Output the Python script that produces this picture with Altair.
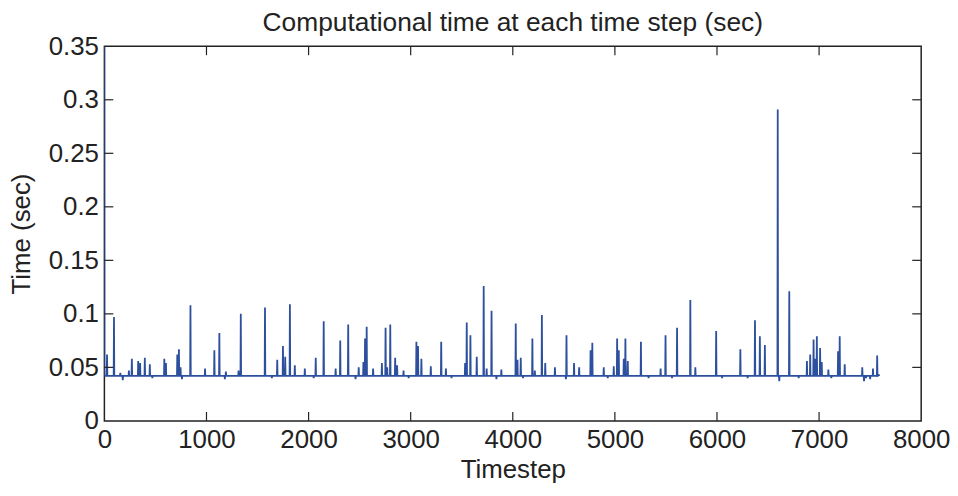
import altair as alt
import pandas as pd

title_text = "Computational time at each time step (sec)"
x_title = "Timestep"
y_title = "Time (sec)"
x_ticks = [0, 1000, 2000, 3000, 4000, 5000, 6000, 7000, 8000]
y_ticks = [0, 0.05, 0.1, 0.15, 0.2, 0.25, 0.3, 0.35]

baseline = 0.042
first_step, first_value = 0, 0.35
last_step, last_value = 7594, 0.043

spike_steps = [26, 94, 156, 240, 269, 331, 350, 396, 445, 587, 603, 714, 730, 746, 843,
               986, 1077, 1126, 1190, 1314, 1336, 1573, 1693, 1749, 1771, 1817, 1865, 1963,
               2070, 2148, 2265, 2310, 2388, 2491, 2537, 2553, 2569, 2632, 2718, 2754, 2770,
               2800, 2848, 2867, 2930, 3056, 3072, 3105, 3197, 3299, 3345, 3533, 3549, 3585,
               3647, 3715, 3744, 3792, 3888, 4029, 4046, 4078, 4192, 4216, 4285, 4318, 4413,
               4526, 4600, 4650, 4762, 4779, 4891, 4989, 5022, 5038, 5087, 5103, 5126, 5255,
               5448, 5496, 5609, 5739, 5788, 5992, 6229, 6372, 6420, 6469, 6595, 6708, 6881,
               6913, 6946, 6962, 6978, 7010, 7026, 7091, 7186, 7202, 7251, 7423, 7528, 7569]
spike_values = [0.062, 0.097, 0.045, 0.047, 0.058, 0.056, 0.054, 0.059, 0.053, 0.058, 0.054,
                0.062, 0.067, 0.050, 0.108, 0.049, 0.066, 0.082, 0.046, 0.047, 0.100, 0.106,
                0.057, 0.070, 0.060, 0.109, 0.052, 0.049, 0.059, 0.093, 0.049, 0.075, 0.090,
                0.050, 0.055, 0.077, 0.088, 0.049, 0.054, 0.087, 0.050, 0.090, 0.059, 0.052,
                0.047, 0.074, 0.070, 0.058, 0.051, 0.074, 0.049, 0.054, 0.092, 0.080, 0.060,
                0.126, 0.049, 0.103, 0.048, 0.091, 0.057, 0.059, 0.077, 0.047, 0.099, 0.054,
                0.050, 0.080, 0.054, 0.050, 0.066, 0.073, 0.050, 0.051, 0.077, 0.066, 0.058,
                0.077, 0.056, 0.074, 0.049, 0.080, 0.087, 0.113, 0.050, 0.084, 0.067, 0.094,
                0.079, 0.071, 0.291, 0.121, 0.056, 0.062, 0.076, 0.058, 0.079, 0.068, 0.055,
                0.048, 0.065, 0.079, 0.053, 0.050, 0.049, 0.061]

dip_steps = [180, 470, 760, 1180, 1640, 2050, 2460, 2980, 3400, 3840, 4100, 4520, 4930,
             5330, 5560, 6050, 6300, 6610, 6800, 7120, 7440, 7460, 7500]
dip_values = [0.038, 0.040, 0.039, 0.039, 0.040, 0.040, 0.039, 0.040, 0.040, 0.039, 0.040,
              0.039, 0.040, 0.040, 0.040, 0.040, 0.040, 0.037, 0.040, 0.040, 0.037, 0.040,
              0.039]

# assemble the series
points = {first_step: first_value, first_step + 1: baseline}
for s in spike_steps + dip_steps:
    for f in (s - 3, s + 3):
        if f > first_step + 1 and f not in points:
            points[f] = baseline
for s, v in zip(dip_steps, dip_values):
    points[s] = v
for s, v in zip(spike_steps, spike_values):
    points[s] = v
points[last_step] = last_value
df = pd.DataFrame(sorted(points.items()), columns=["t", "v"])

W, H = 822, 377
TICK = 9
font = "Liberation Sans"
ink = "#222222"
blue = "#2c4f9e"

xs = alt.Scale(domain=[0, 8000], nice=False, zero=False)
ys = alt.Scale(domain=[0, 0.35], nice=False)

line = alt.Chart(df).mark_line(color=blue, strokeWidth=1.8, clip=True).encode(
    x=alt.X("t:Q", scale=xs, axis=alt.Axis(values=x_ticks, title=x_title, format="d",
                                           labelFlush=False, titlePadding=4)),
    y=alt.Y("v:Q", scale=ys, axis=alt.Axis(values=y_ticks, title=y_title, format="~g",
                                           labelFlush=False, titlePadding=14)),
)

xt = pd.DataFrame({"t": x_ticks[1:-1]})
yt = pd.DataFrame({"v": y_ticks[1:-1]})
tick_style = dict(color=ink, strokeWidth=1.2)
bottom_ticks = alt.Chart(xt).mark_rule(**tick_style).encode(
    x=alt.X("t:Q", scale=xs), y=alt.value(H), y2=alt.value(H - TICK))
top_ticks = alt.Chart(xt).mark_rule(**tick_style).encode(
    x=alt.X("t:Q", scale=xs), y=alt.value(0), y2=alt.value(TICK))
left_ticks = alt.Chart(yt).mark_rule(**tick_style).encode(
    y=alt.Y("v:Q", scale=ys), x=alt.value(0), x2=alt.value(TICK))
right_ticks = alt.Chart(yt).mark_rule(**tick_style).encode(
    y=alt.Y("v:Q", scale=ys), x=alt.value(W), x2=alt.value(W - TICK))

chart = alt.layer(line, bottom_ticks, top_ticks, left_ticks, right_ticks).properties(
    width=W, height=H,
    title=alt.TitleParams(title_text, font=font, fontSize=26.5, fontWeight="normal",
                          color=ink, anchor="middle", offset=-3),
    padding={"left": 0, "top": 0, "right": 0, "bottom": 0},
).configure_axis(
    ticks=False, domain=False, grid=False,
    labelFont=font, labelFontSize=26, labelColor=ink, labelPadding=6,
    titleFont=font, titleFontSize=26, titleFontWeight="normal", titleColor=ink,
).configure_view(stroke=ink, strokeWidth=1.5)

chart.save("out.html", embed_options={"renderer": "svg", "actions": False})
